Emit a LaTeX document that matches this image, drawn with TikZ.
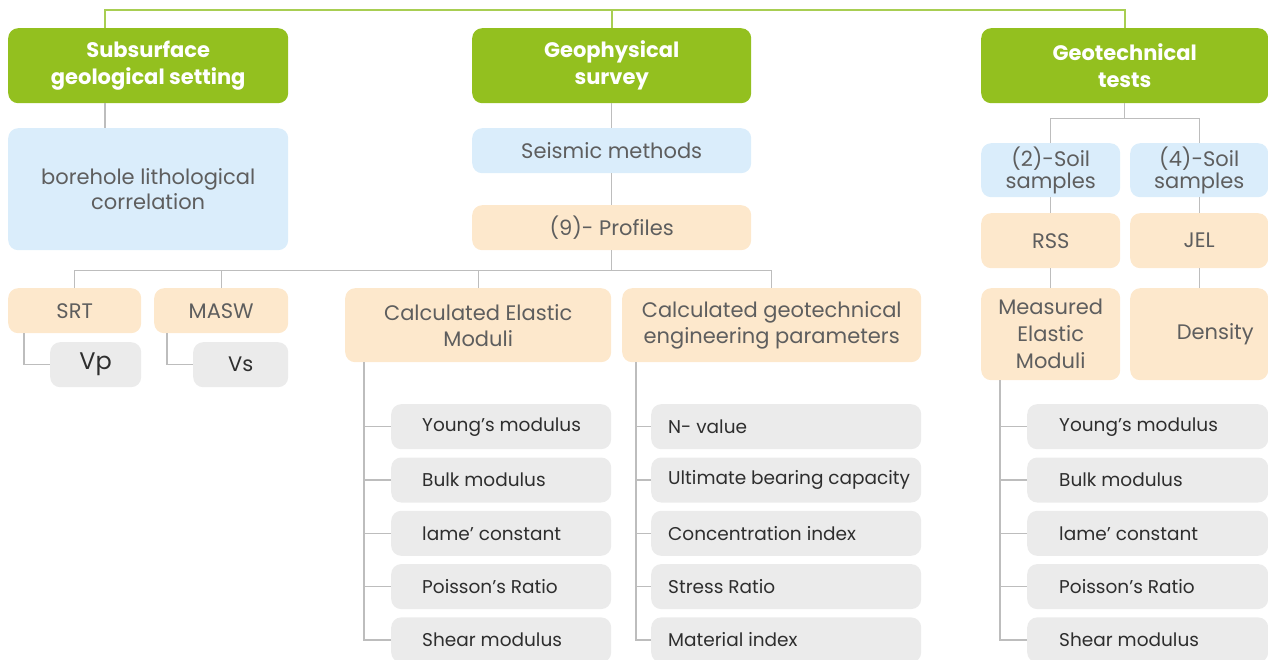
\documentclass[tikz,border=0pt]{standalone}
\usepackage{fontspec}
\setmainfont{Poppins}
\usetikzlibrary{calc}
\definecolor{hgreen}{HTML}{93C01F}
\definecolor{lgreen}{HTML}{A8CE52}
\definecolor{lblue}{HTML}{DAEDFB}
\definecolor{lorange}{HTML}{FDE8CC}
\definecolor{lgrey}{HTML}{EBEBEB}
\definecolor{lline}{HTML}{BDBDBD}
\definecolor{midtext}{HTML}{5E5E5E}
\definecolor{darktext}{HTML}{2E2E2E}
\tikzset{
  box/.style={anchor=north west, rounded corners=10pt, inner sep=0pt, align=center},
  hdr/.style={box, fill=hgreen, text=white, font=\fontsize{21}{27}\selectfont\bfseries},
  bluebox/.style={box, fill=lblue, text=midtext, font=\fontsize{21}{25}\selectfont},
  orbox/.style={box, fill=lorange, text=midtext, font=\fontsize{21}{26}\selectfont},
  gbox/.style={box, fill=lgrey, text=darktext, font=\fontsize{24}{26}\selectfont},
  itembox/.style={box, fill=lgrey, minimum height=45pt},
  itemtext/.style={anchor=west, text=darktext, font=\fontsize{18.5}{21}\selectfont, inner sep=0pt},
  conn/.style={draw=lline, line width=1.2pt},
  gconn/.style={draw=lgreen, line width=1.6pt},
}
\begin{document}
\begin{tikzpicture}[x=1pt,y=-1pt]
\useasboundingbox (0,0) rectangle (1268,660);
% headers
\node[hdr, minimum width=280pt, minimum height=75pt] (g1) at (8,28) {Subsurface\\geological setting};
\node[hdr, minimum width=279pt, minimum height=75pt] (g2) at (472,28) {Geophysical\\survey};
\node[hdr, minimum width=287pt, minimum height=75pt] (g3) at (981,28) {Geotechnical\\tests};
% column 1
\node[bluebox, minimum width=280pt, minimum height=122pt] (bh) at (8,128) {borehole lithological\\correlation};
% column 2
\node[bluebox, minimum width=279pt, minimum height=45pt] (sm) at (472,128) {Seismic methods};
\node[orbox, minimum width=279pt, minimum height=45pt] (pr) at (472,205) {(9)- Profiles};
\node[orbox, minimum width=133pt, minimum height=45pt] (srt) at (8,288) {SRT};
\node[orbox, minimum width=134pt, minimum height=45pt] (masw) at (154,288) {MASW};
\node[gbox, minimum width=91pt, minimum height=45pt] (vp) at (50,342) {Vp};
\node[gbox, minimum width=95pt, minimum height=45pt, font=\fontsize{21}{24}\selectfont] (vs) at (193,342) {Vs};
\node[orbox, minimum width=266pt, minimum height=74pt] (ce) at (345,288) {Calculated Elastic\\Moduli};
\node[orbox, minimum width=299pt, minimum height=74pt] (cg) at (622,288) {Calculated geotechnical\\engineering parameters};
% column 3
\node[bluebox, minimum width=139pt, minimum height=54pt, font=\fontsize{21}{22}\selectfont] (s2) at (981,143) {(2)-Soil\\samples};
\node[bluebox, minimum width=138pt, minimum height=54pt, font=\fontsize{21}{22}\selectfont] (s4) at (1130,143) {(4)-Soil\\samples};
\node[orbox, minimum width=139pt, minimum height=55pt] (rss) at (981,213) {RSS};
\node[orbox, minimum width=138pt, minimum height=55pt] (jel) at (1130,213) {JEL};
\node[orbox, minimum width=139pt, minimum height=92pt, font=\fontsize{21}{27}\selectfont] (me) at (981,288) {Measured\\Elastic\\Moduli};
\node[orbox, minimum width=138pt, minimum height=92pt] (de) at (1130,288) {\hspace*{32pt}Density};
% lists
\foreach \t [count=\i] in {Young’s modulus,Bulk modulus,lame’ constant,Poisson’s Ratio,Shear modulus}{
  \node[itembox, minimum width=220pt] (ea\i) at (391,{404+53.3*(\i-1)}) {};
  \node[itemtext] at ($(ea\i.west)+(31,0)$) {\t};
  \node[itembox, minimum width=241pt] (ec\i) at (1027,{404+53.3*(\i-1)}) {};
  \node[itemtext] at ($(ec\i.west)+(32,0)$) {\t};
}
\foreach \t [count=\i] in {N- value,Ultimate bearing capacity,Concentration index,Stress Ratio,Material index}{
  \node[itembox, minimum width=270pt] (eb\i) at (651,{404+53.3*(\i-1)}) {};
  \node[itemtext] at ($(eb\i.west)+(17,0)$) {\t};
}
% green top connectors
\draw[gconn] ($(g1.north west)+(97,0)$) -- ++(0,-18) -| (g3.north);
\draw[gconn] (g2.north) -- ++(0,-18);
% grey connectors
\draw[conn] ($(g1.south west)+(97,0)$) -- ($(bh.north west)+(97,0)$);
\draw[conn] (g2.south) -- (sm.north);
\draw[conn] (sm.south) -- (pr.north);
\draw[conn] (pr.south) -- ++(0,20) coordinate (hb);
\draw[conn] (srt.north) |- (hb) -| (cg.north);
\draw[conn] (masw.north) -- (masw.north |- hb);
\draw[conn] (ce.north) -- (ce.north |- hb);
\draw[conn] ($(srt.south west)+(16,0)$) |- (vp.west);
\draw[conn] ($(masw.south west)+(13,0)$) |- (vs.west);
\draw[conn] (g3.south) -- ++(0,15) coordinate (g3b);
\draw[conn] (s2.north) |- (g3b) -| (s4.north);
\draw[conn] (s2.south) -- (rss.north);
\draw[conn] (s4.south) -- (jel.north);
\draw[conn] (rss.south) -- (me.north);
\draw[conn] (jel.south) -- (de.north);
\foreach \i in {1,...,5}{
  \draw[conn] ($(ce.south west)+(19,0)$) |- (ea\i.west);
  \draw[conn] ($(cg.south west)+(14,0)$) |- (eb\i.west);
  \draw[conn] ($(me.south west)+(19,0)$) |- (ec\i.west);
}
\end{tikzpicture}
\end{document}
